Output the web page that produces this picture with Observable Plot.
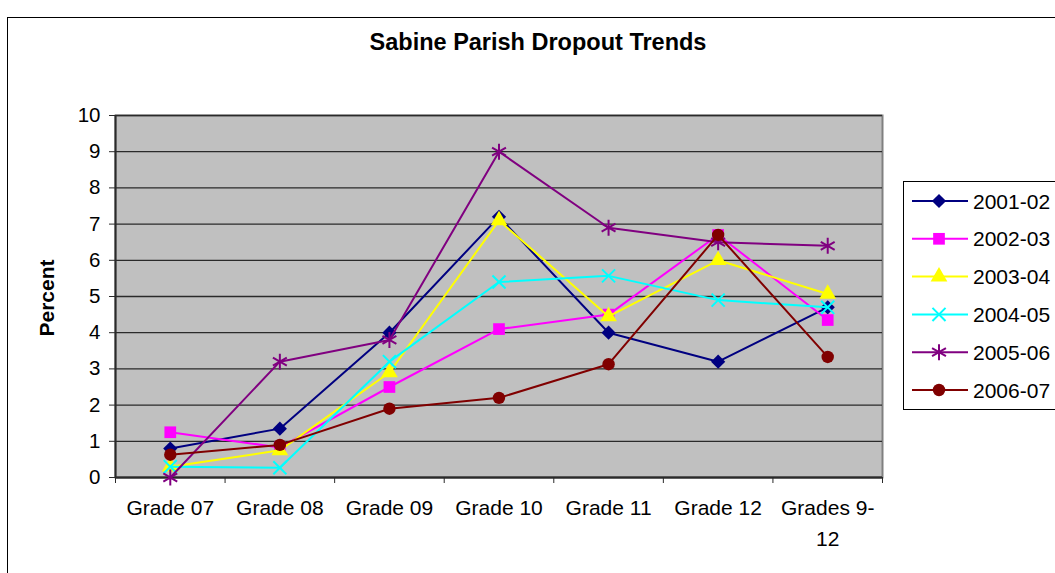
<!DOCTYPE html>
<html>
<head>
<meta charset="utf-8">
<script src="https://cdn.jsdelivr.net/npm/d3@7"></script>
<script src="https://cdn.jsdelivr.net/npm/@observablehq/plot@0.6"></script>
<style>
  html, body { margin: 0; padding: 0; background: #fff; overflow: hidden; }
  #wrap { position: relative; width: 1055px; height: 573px; font-family: "Liberation Sans", Arial, sans-serif; }
  #frame { position: absolute; left: 7px; top: 17px; width: 1200px; height: 700px; border-left: 1.5px solid #000; border-top: 1.5px solid #000; }
  #title { position: absolute; left: 0; width: 1076px; top: 28px; text-align: center; font-weight: bold; font-size: 23.5px; line-height: 28px; color: #000; }
  #ylabel { position: absolute; left: 47px; top: 298px; transform: translate(-50%, -50%) rotate(-90deg); font-weight: bold; font-size: 21px; white-space: nowrap; }
  #chart { position: absolute; left: 0; top: 0; }
  #legend { position: absolute; left: 903px; top: 181px; width: 200px; height: 227px; border: 1.5px solid #000; background: #fff; }
</style>
</head>
<body>
<div id="wrap">
  <div id="frame"></div>
  <div id="chart"></div>
  <div id="title">Sabine Parish Dropout Trends</div>
  <div id="ylabel">Percent</div>
  <div id="legend"></div>
</div>
<script>
// ---- data ----
const categories = ["Grade 07", "Grade 08", "Grade 09", "Grade 10", "Grade 11", "Grade 12", "Grades 9-12"];
const categoryLabels = ["Grade 07", "Grade 08", "Grade 09", "Grade 10", "Grade 11", "Grade 12", "Grades 9-\n12"];
const seriesNames = ["2001-02", "2002-03", "2003-04", "2004-05", "2005-06", "2006-07"];
const s2001 = [0.8, 1.35, 4.0, 7.2, 4.0, 3.2, 4.7];
const s2002 = [1.25, 0.83, 2.5, 4.1, 4.5, 6.7, 4.35];
const s2003 = [0.3, 0.75, 2.9, 7.1, 4.45, 6.0, 5.07];
const s2004 = [0.3, 0.27, 3.2, 5.4, 5.57, 4.9, 4.7];
const s2005 = [0.0, 3.2, 3.8, 9.0, 6.9, 6.5, 6.4];
const s2006 = [0.63, 0.9, 1.9, 2.2, 3.13, 6.7, 3.33];
const seriesValues = [s2001, s2002, s2003, s2004, s2005, s2006];
const yTicks = [0, 1, 2, 3, 4, 5, 6, 7, 8, 9, 10];

// ---- styles ----
const colors = ["#000080", "#FF00FF", "#FFFF00", "#00FFFF", "#800080", "#800000"];
const symbols = ["diamond2", "square", "triangle", "times", "asterisk", "circle"];
const filled = [true, true, true, false, false, true];
const radii = [6.4, 6.6, 6.2, 6.0, 7.6, 6.2];

const data = seriesNames.flatMap((s, k) =>
  categories.map((c, i) => ({series: s, k, i, cat: c, value: seriesValues[k][i]})));
const idx = categories.map((c, i) => i);
const bounds = categories.map((c, i) => i - 0.5).concat([categories.length - 0.5]);

const seriesMarks = seriesNames.flatMap((s, k) => {
  const d = data.filter(r => r.k === k);
  return [
    Plot.line(d, {x: "i", y: "value", stroke: colors[k], strokeWidth: 2}),
    Plot.dot(d, {x: "i", y: "value", symbol: () => symbols[k], r: radii[k],
      fill: filled[k] ? colors[k] : "none", stroke: filled[k] ? "none" : colors[k], strokeWidth: 2})
  ];
});

const chart = Plot.plot({
  width: 1055,
  height: 573,
  marginLeft: 115,
  marginRight: 173,
  marginTop: 115,
  marginBottom: 96,
  style: {fontFamily: "'Liberation Sans', Arial, sans-serif", color: "#000", background: "transparent", overflow: "visible"},
  x: {type: "linear", domain: [-0.5, categories.length - 0.5], axis: null},
  y: {domain: [0, 10], axis: null},
  symbol: {type: "identity"},
  marks: [
    Plot.frame({fill: "#C0C0C0", stroke: "#808080", strokeWidth: 2}),
    Plot.ruleY(yTicks, {stroke: "#2a2a2a", strokeWidth: 1.3}),
    Plot.ruleY([0], {stroke: "#2a2a2a", strokeWidth: 2}),
    Plot.ruleX([-0.5], {stroke: "#2a2a2a", strokeWidth: 2}),
    Plot.axisY(yTicks, {tickSize: 6, tickPadding: 9, fontSize: 20.5, stroke: "#2a2a2a", label: null, tickFormat: d => String(d)}),
    Plot.axisX(bounds, {tickSize: 6, tickFormat: () => "", stroke: "#2a2a2a", label: null}),
    Plot.axisX(idx, {tickSize: 0, tickPadding: 16, fontSize: 21, lineHeight: 1.45, label: null, tickFormat: i => categoryLabels[i]}),
    ...seriesMarks
  ]
});
document.getElementById("chart").appendChild(chart);

// ---- legend ----
const lg = d3.select("#legend").append("svg").attr("width", 200).attr("height", 227);
const symMap = {diamond2: d3.symbolDiamond2, square: d3.symbolSquare, triangle: d3.symbolTriangle,
  times: d3.symbolTimes, asterisk: d3.symbolAsterisk, circle: d3.symbolCircle};
seriesNames.forEach((s, k) => {
  const cy = 19 + k * 37.8;
  const g = lg.append("g").attr("transform", `translate(0,${cy})`);
  g.append("line").attr("x1", 8).attr("x2", 64).attr("y1", 0).attr("y2", 0)
    .attr("stroke", colors[k]).attr("stroke-width", 2);
  const size = Math.PI * radii[k] * radii[k];
  g.append("path").attr("transform", "translate(35,0)")
    .attr("d", d3.symbol(symMap[symbols[k]], size)())
    .attr("fill", filled[k] ? colors[k] : "none")
    .attr("stroke", filled[k] ? "none" : colors[k]).attr("stroke-width", 2);
  g.append("text").attr("x", 69).attr("y", 0).attr("dy", "0.36em")
    .attr("font-size", 21).attr("font-family", "'Liberation Sans', Arial, sans-serif")
    .text(s);
});
</script>
</body>
</html>
